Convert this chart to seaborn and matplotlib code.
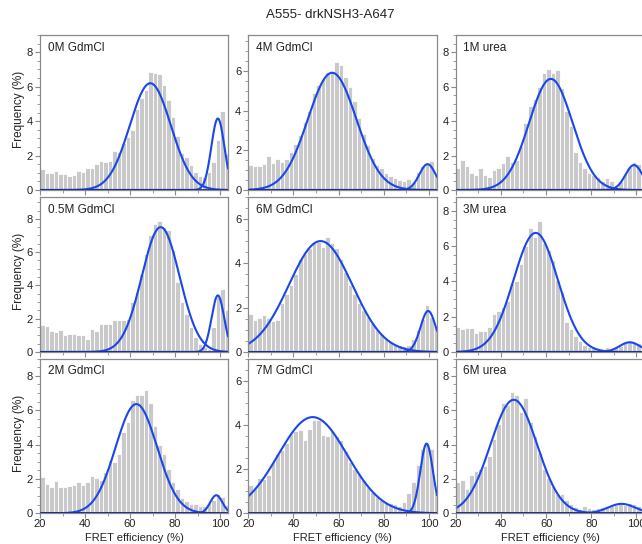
import numpy as np
import matplotlib
matplotlib.use("Agg")
import matplotlib.pyplot as plt
import seaborn as sns
from matplotlib.ticker import MultipleLocator

sns.set_style("ticks")
plt.rcParams['font.family'] = ['Liberation Sans', 'DejaVu Sans']

# ---------------- data ----------------
title = "A555- drkNSH3-A647"
panel_labels = ["0M GdmCl", "4M GdmCl", "1M urea",
                "0.5M GdmCl", "6M GdmCl", "3M urea",
                "2M GdmCl", "7M GdmCl", "6M urea"]

bin_edges = list(range(20, 106, 2))  # 2 % wide FRET bins, 20..104

h_0M_gdm = [1.2, 1.0, 0.97, 1.12, 0.95, 0.93, 0.83, 0.9, 1.12, 1.07, 1.28, 1.3, 1.5, 1.68, 1.6,
            1.68, 2.27, 2.19, 2.75, 3.1, 3.5, 4.7, 5.33, 5.8, 6.88, 6.82, 6.72, 6.1, 5.2, 4.22,
            3.14, 2.17, 1.94, 1.43, 1.07, 0.81, 0.78, 1.05, 1.6, 2.9, 4.6, 2.1]
h_4M_gdm = [1.25, 1.2, 1.2, 1.3, 1.7, 1.35, 1.55, 1.4, 1.55, 1.9, 2.3, 2.75, 3.4, 4.0, 4.9,
            5.3, 5.6, 5.95, 6.0, 6.45, 6.3, 5.7, 5.2, 4.5, 3.6, 2.8, 2.25, 1.6, 1.25, 1.1,
            0.85, 0.7, 0.6, 0.5, 0.45, 0.55, 0.4, 0.9, 1.2, 1.3, 1.45, 0.8]
h_1M_urea = [1.25, 1.75, 1.4, 1.0, 0.85, 1.25, 0.85, 0.75, 1.15, 1.25, 1.55, 1.95, 1.6, 1.75,
             2.55, 3.9, 4.9, 5.3, 6.0, 6.8, 7.0, 6.8, 6.95, 5.9, 4.6, 3.7, 2.2, 1.6, 1.25, 1.0,
             0.85, 0.75, 0.55, 0.7, 0.5, 0.3, 0.55, 0.9, 1.35, 1.6, 1.5, 1.3]
h_05M_gdm = [1.65, 1.55, 1.25, 1.2, 1.35, 1.0, 1.1, 1.1, 1.05, 1.0, 0.8, 1.4, 1.25, 1.7, 1.7,
             1.7, 1.9, 1.95, 1.9, 2.0, 3.0, 3.6, 4.7, 5.9, 7.0, 7.7, 7.9, 7.5, 7.3, 6.1, 4.2,
             3.0, 2.3, 1.5, 0.9, 0.5, 0.3, 0.2, 1.5, 3.3, 3.8, 2.5]
h_6M_gdm = [1.7, 1.45, 1.55, 1.65, 1.55, 1.4, 1.45, 2.2, 2.6, 3.0, 3.5, 4.2, 4.4, 4.7, 4.9,
            4.95, 4.75, 5.2, 4.9, 4.7, 4.2, 3.6, 3.0, 2.6, 2.2, 1.9, 1.6, 1.3, 1.0, 0.8, 0.6,
            0.45, 0.35, 0.3, 0.25, 0.3, 0.6, 1.0, 1.5, 2.1, 1.6, 1.2]
h_3M_urea = [1.4, 1.3, 1.35, 1.35, 1.1, 1.2, 1.2, 1.4, 2.15, 2.3, 2.55, 2.9, 3.9, 4.0, 5.0,
             6.0, 7.05, 6.5, 7.45, 6.2, 5.8, 5.2, 4.1, 3.4, 1.7, 1.3, 0.9, 0.6, 0.4, 0.3, 0.2,
             0.2, 0.15, 0.3, 0.25, 0.3, 0.35, 0.5, 0.6, 0.55, 0.5, 0.4]
h_2M_gdm = [2.1, 1.7, 1.55, 1.9, 1.5, 1.55, 1.6, 1.65, 1.8, 1.65, 1.8, 2.15, 2.05, 1.95,
            2.4, 3.1, 3.0, 3.45, 4.7, 5.3, 6.6, 6.9, 6.9, 7.15, 6.4, 5.1, 4.0, 3.45, 2.6, 1.8,
            1.4, 0.9, 0.7, 0.55, 0.55, 0.4, 0.45, 0.6, 0.8, 1.15, 0.95, 0.5]
h_7M_gdm = [1.3, 1.15, 1.6, 1.55, 1.75, 2.3, 2.7, 2.85, 3.2, 3.6, 3.7, 3.75, 3.3, 3.8, 4.2,
            4.2, 3.55, 3.5, 3.7, 3.5, 3.3, 2.8, 2.3, 2.0, 1.8, 1.5, 1.2, 0.95, 0.75, 0.6, 0.5,
            0.45, 0.4, 0.35, 0.5, 0.9, 1.4, 2.2, 2.9, 3.2, 2.9, 0.9]
h_6M_urea = [1.8, 1.95, 1.4, 2.25, 2.45, 2.6, 2.75, 3.35, 4.3, 5.2, 6.4, 6.3, 7.05, 6.85, 5.9,
             6.7, 5.3, 4.5, 3.5, 2.6, 2.05, 1.6, 1.15, 1.1, 0.8, 0.55, 0.35, 0.25, 0.4, 0.3,
             0.25, 0.3, 0.35, 0.4, 0.45, 0.5, 0.55, 0.5, 0.6, 0.55, 0.45, 0.3]

heights = [h_0M_gdm, h_4M_gdm, h_1M_urea,
           h_05M_gdm, h_6M_gdm, h_3M_urea,
           h_2M_gdm, h_7M_gdm, h_6M_urea]

# Gaussian fit parameters (amplitude %, centre %, sigma %) for the two populations
fit_main_amp = [6.2, 5.9, 6.45, 7.5, 5.0, 6.75, 6.35, 4.35, 6.6]
fit_main_cen = [69.0, 57.1, 62.1, 73.6, 52.0, 55.4, 62.8, 48.5, 45.7]
fit_main_sig = [9.1, 10.7, 9.6, 8.4, 14.0, 9.8, 9.2, 15.3, 10.3]
fit_hi_amp = [4.15, 1.3, 1.45, 3.4, 1.85, 0.55, 1.05, 3.15, 0.55]
fit_hi_cen = [99.0, 99.3, 98.9, 99.0, 99.6, 97.0, 98.3, 98.9, 93.4]
fit_hi_sig = [2.9, 3.6, 3.8, 2.8, 3.4, 4.5, 2.7, 2.8, 6.0]

y_max = [9.0, 7.8, 9.0,
         9.33, 7.0, 8.8,
         9.0, 7.0, 9.0]

x_ticks = [20, 40, 60, 80, 100]

# ---------------- layout ----------------
W, H = 642, 544
fig = plt.figure(figsize=(W / 100, H / 100), dpi=100)
col_px = [(40, 228), (248.3, 437), (455.7, 644.4)]
row_px = [(35, 190), (196.7, 352), (358.5, 513.3)]

bar_color = "#c9c9c9"
line_color = "#1a46ec"
spine_color = "#8a8a8a"
text_color = "#222222"

centers = [(a + b) / 2 for a, b in zip(bin_edges[:-1], bin_edges[1:])]

for k in range(9):
    r, c = divmod(k, 3)
    l, rr = col_px[c]
    t, b = row_px[r]
    ax = fig.add_axes([l / W, 1 - b / H, (rr - l) / W, (b - t) / H])
    sns.histplot(x=centers, weights=heights[k], bins=bin_edges, ax=ax,
                 color=bar_color, edgecolor="white", linewidth=0.6, alpha=1.0)
    xs = np.linspace(20, 103.5, 500)
    g1 = fit_main_amp[k] * np.exp(-(xs - fit_main_cen[k]) ** 2 / (2 * fit_main_sig[k] ** 2))
    g2 = fit_hi_amp[k] * np.exp(-(xs - fit_hi_cen[k]) ** 2 / (2 * fit_hi_sig[k] ** 2))
    sns.lineplot(x=xs, y=g1, ax=ax, color=line_color, lw=1.5)
    sns.lineplot(x=xs, y=g2, ax=ax, color=line_color, lw=1.5)
    ax.axhline(0, color="#1a2a80", lw=1.2, zorder=5)

    ax.set_xlim(20, 103.5)
    ax.set_ylim(0, y_max[k])
    ax.set_xticks(x_ticks)
    ax.xaxis.set_minor_locator(MultipleLocator(10))
    ax.yaxis.set_major_locator(MultipleLocator(2))
    ax.yaxis.set_minor_locator(MultipleLocator(0.5))
    ax.tick_params(axis="both", which="major", length=3.5, width=0.8,
                   color=spine_color, labelsize=8, labelcolor=text_color, pad=1.5)
    ax.tick_params(axis="x", which="major", pad=0.5)
    ax.tick_params(axis="both", which="minor", length=2, width=0.6, color=spine_color)
    if r < 2:
        ax.tick_params(axis="x", labelbottom=False)
    ax.set_xlabel("")
    ax.set_ylabel("")
    for s in ax.spines.values():
        s.set_visible(True)
        s.set_color(spine_color)
        s.set_linewidth(0.9)
    ax.text(7.7 / (rr - l), 1 - 13 / (b - t), panel_labels[k], transform=ax.transAxes,
            ha="left", va="center", fontsize=8.5, color=text_color)
    if c == 0:
        fig.text(19 / W, 1 - ((t + b) / 2 - 3) / H, "Frequency (%)", rotation=90,
                 ha="center", va="center", fontsize=8.5, color=text_color)
    if r == 2:
        fig.text(((l + rr) / 2) / W, 1 - 538 / H, "FRET efficiency (%)",
                 ha="center", va="center", fontsize=8, color=text_color)

fig.text(330 / W, 1 - 15 / H, title, ha="center", va="center", fontsize=9.5, color=text_color)

fig.savefig("out.png", dpi=100)
